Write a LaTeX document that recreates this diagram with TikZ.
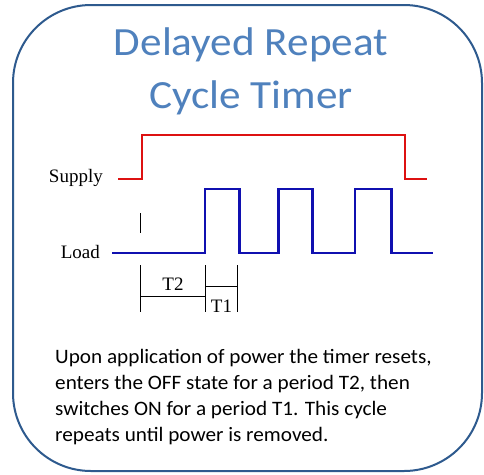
\documentclass[tikz,border=0pt]{standalone}
\usepackage{fontspec}
\setmainfont{Carlito}
\newfontfamily\wavefont{Liberation Serif}
\definecolor{boxblue}{HTML}{2E5A8E}
\definecolor{titleblue}{HTML}{4F81BD}
\definecolor{supplyred}{HTML}{DD1111}
\definecolor{loadblue}{HTML}{1010B0}
\newcommand{\wideT}[1]{\scalebox{1.08}[1]{#1}}
\newcommand{\wideB}[1]{\scalebox{1.035}[1]{#1}}
\begin{document}
\begin{tikzpicture}[x=1pt,y=-1pt,
  frame/.style={draw=boxblue,line width=2pt,rounded corners=78pt},
  titletext/.style={anchor=base,inner sep=0pt,text=titleblue,font=\fontsize{40}{48}\selectfont},
  bodytext/.style={anchor=base west,inner sep=0pt,font=\fontsize{20.5}{26}\selectfont},
  wavelabel/.style={inner sep=0pt,font=\wavefont\fontsize{19}{22}\selectfont},
  supplywave/.style={draw=supplyred,line width=2.6pt},
  loadwave/.style={draw=loadblue,line width=2.6pt},
  dimline/.style={draw=black,line width=0.9pt}]
\useasboundingbox (0,0) rectangle (484,474);
\fill[white] (0,0) rectangle (484,474);
\draw[frame] (13,5) rectangle (482,471);
% title
\node[titletext] (title1) at (251,55) {\wideT{Delayed Repeat}};
\node[titletext] (title2) at (251,108) {\wideT{Cycle Timer}};
% labels
\node[wavelabel,anchor=base east] (supply) at (103,182) {Supply};
\node[wavelabel,anchor=base east] (load) at (100,258) {Load};
% supply waveform
\draw[supplywave] (118,179) -- (142,179) -- (142,135) -- (405,135) -- (405,179) -- (427,179);
% load waveform
\draw[loadwave] (112,253) -- (205,253) -- (205,189) -- (239.5,189) -- (239.5,253)
  -- (278.5,253) -- (278.5,189) -- (312.5,189) -- (312.5,253)
  -- (355,253) -- (355,189) -- (391.5,189) -- (391.5,253) -- (433,253);
% marker
\draw[dimline] (140,213) -- (140,233);
% dimension lines
\coordinate (a1) at (140,265); \coordinate (a2) at (140,312);
\coordinate (b1) at (205.5,265); \coordinate (b2) at (205.5,312);
\coordinate (c1) at (237.5,265); \coordinate (c2) at (237.5,312);
\draw[dimline] (a1) -- (a2);
\draw[dimline] (b1) -- (b2);
\draw[dimline] (c1) -- (c2);
\draw[dimline] (140,296.5) -- (205.5,296.5);
\draw[dimline] (205.5,286.5) -- (237.5,286.5);
\node[wavelabel,anchor=base] (t2) at (173,290) {T2};
\node[wavelabel,anchor=base] (t1) at (221.5,312) {T1};
% body text
\node[bodytext] (l1) at (55,363) {\wideB{Upon application of power the timer resets,}};
\node[bodytext] (l2) at (55,389) {\wideB{enters the OFF state for a period T2, then}};
\node[bodytext] (l3) at (55,415) {\wideB{switches ON for a period T1. This cycle}};
\node[bodytext] (l4) at (55,441) {\wideB{repeats until power is removed.}};
\end{tikzpicture}
\end{document}
